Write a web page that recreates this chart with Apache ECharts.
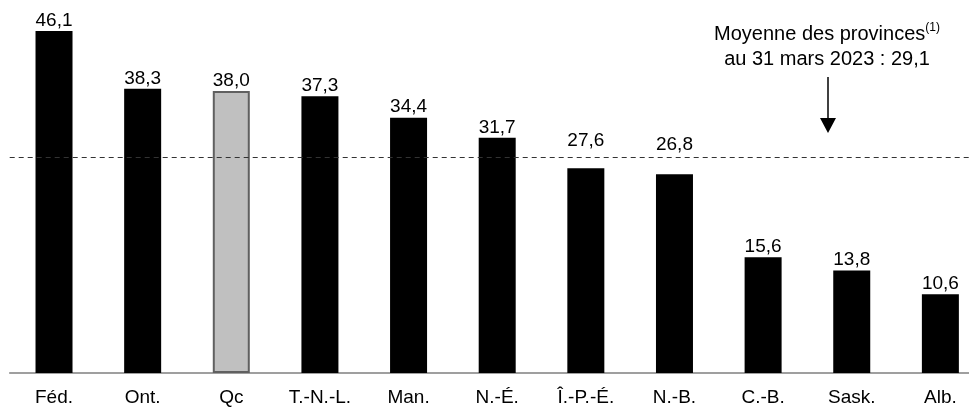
<!DOCTYPE HTML>
<html>
<head>
    <title>Moyenne des provinces</title>
    <script src="https://cdn.jsdelivr.net/npm/echarts@6.0.0/dist/echarts.min.js"></script>
    <style>
        body { margin: 0; background: #fff; }
    </style>
</head>
<body>
<div id="main" style="width: 969px;height: 409px;"></div>
<script type="text/javascript">

    var categories = ['Féd.', 'Ont.', 'Qc', 'T.-N.-L.', 'Man.', 'N.-É.', 'Î.-P.-É.', 'N.-B.', 'C.-B.', 'Sask.', 'Alb.'];
    var values = [46.1, 38.3, 38.0, 37.3, 34.4, 31.7, 27.6, 26.8, 15.6, 13.8, 10.6];
    var average = 29.1;
    var highlight = 'Qc';
    // labels pushed up so they clear the dashed average line
    var raisedLabels = { 'Î.-P.-É.': 18, 'N.-B.': 20 };

    var barData = [];
    for (var i = 0; i < categories.length; i++) {
        var item = { value: values[i] };
        if (categories[i] == highlight) {
            item.itemStyle = { color: '#c0c0c0', borderColor: '#606060', borderWidth: 2 };
        }
        if (raisedLabels[categories[i]]) {
            item.label = { distance: raisedLabels[categories[i]] };
        }
        barData.push(item);
    }

    var chart = echarts.init(document.getElementById('main'));
    var font = 'Liberation Sans, Arial, sans-serif';

    var option = {
        animation: false,
        grid: { left: 9.7, top: 2, width: 975, bottom: 36, outerBoundsMode: 'none' },
        xAxis: {
            type: 'category',
            data: categories,
            axisLine: { lineStyle: { color: '#808080', width: 1.5 } },
            axisTick: { show: false },
            axisLabel: { color: '#000', fontSize: 19, fontFamily: font, margin: 15 }
        },
        yAxis: {
            type: 'value',
            min: 0,
            max: 50,
            show: false
        },
        series: [{
            type: 'bar',
            data: barData,
            barWidth: 37,
            itemStyle: { color: '#000' },
            label: {
                show: true,
                position: 'top',
                distance: 1,
                color: '#000',
                fontSize: 19,
                fontFamily: font,
                formatter: function (p) { return p.value.toFixed(1).replace('.', ','); }
            },
            markLine: {
                silent: true,
                symbol: 'none',
                label: { show: false },
                lineStyle: { color: '#333', type: [5, 4], width: 1.2 },
                data: [{ yAxis: average }]
            }
        }],
        graphic: [
            {
                type: 'text',
                x: 827,
                y: 22,
                style: {
                    text: 'Moyenne des provinces{sup|(1)}\nau 31 mars 2023 : ' + average.toFixed(1).replace('.', ','),
                    fill: '#000',
                    fontSize: 20,
                    fontFamily: font,
                    align: 'center',
                    lineHeight: 25,
                    rich: {
                        sup: { fontSize: 12, verticalAlign: 'top', padding: [0, 0, 9, 0], fontFamily: font, lineHeight: 25 }
                    }
                }
            },
            {
                type: 'line',
                shape: { x1: 828, y1: 77, x2: 828, y2: 122 },
                style: { stroke: '#000', lineWidth: 1.5 }
            },
            {
                type: 'polygon',
                shape: { points: [[820, 118], [836, 118], [828, 133]] },
                style: { fill: '#000' }
            }
        ]
    };

    chart.setOption(option);

</script>
</body>
</html>
